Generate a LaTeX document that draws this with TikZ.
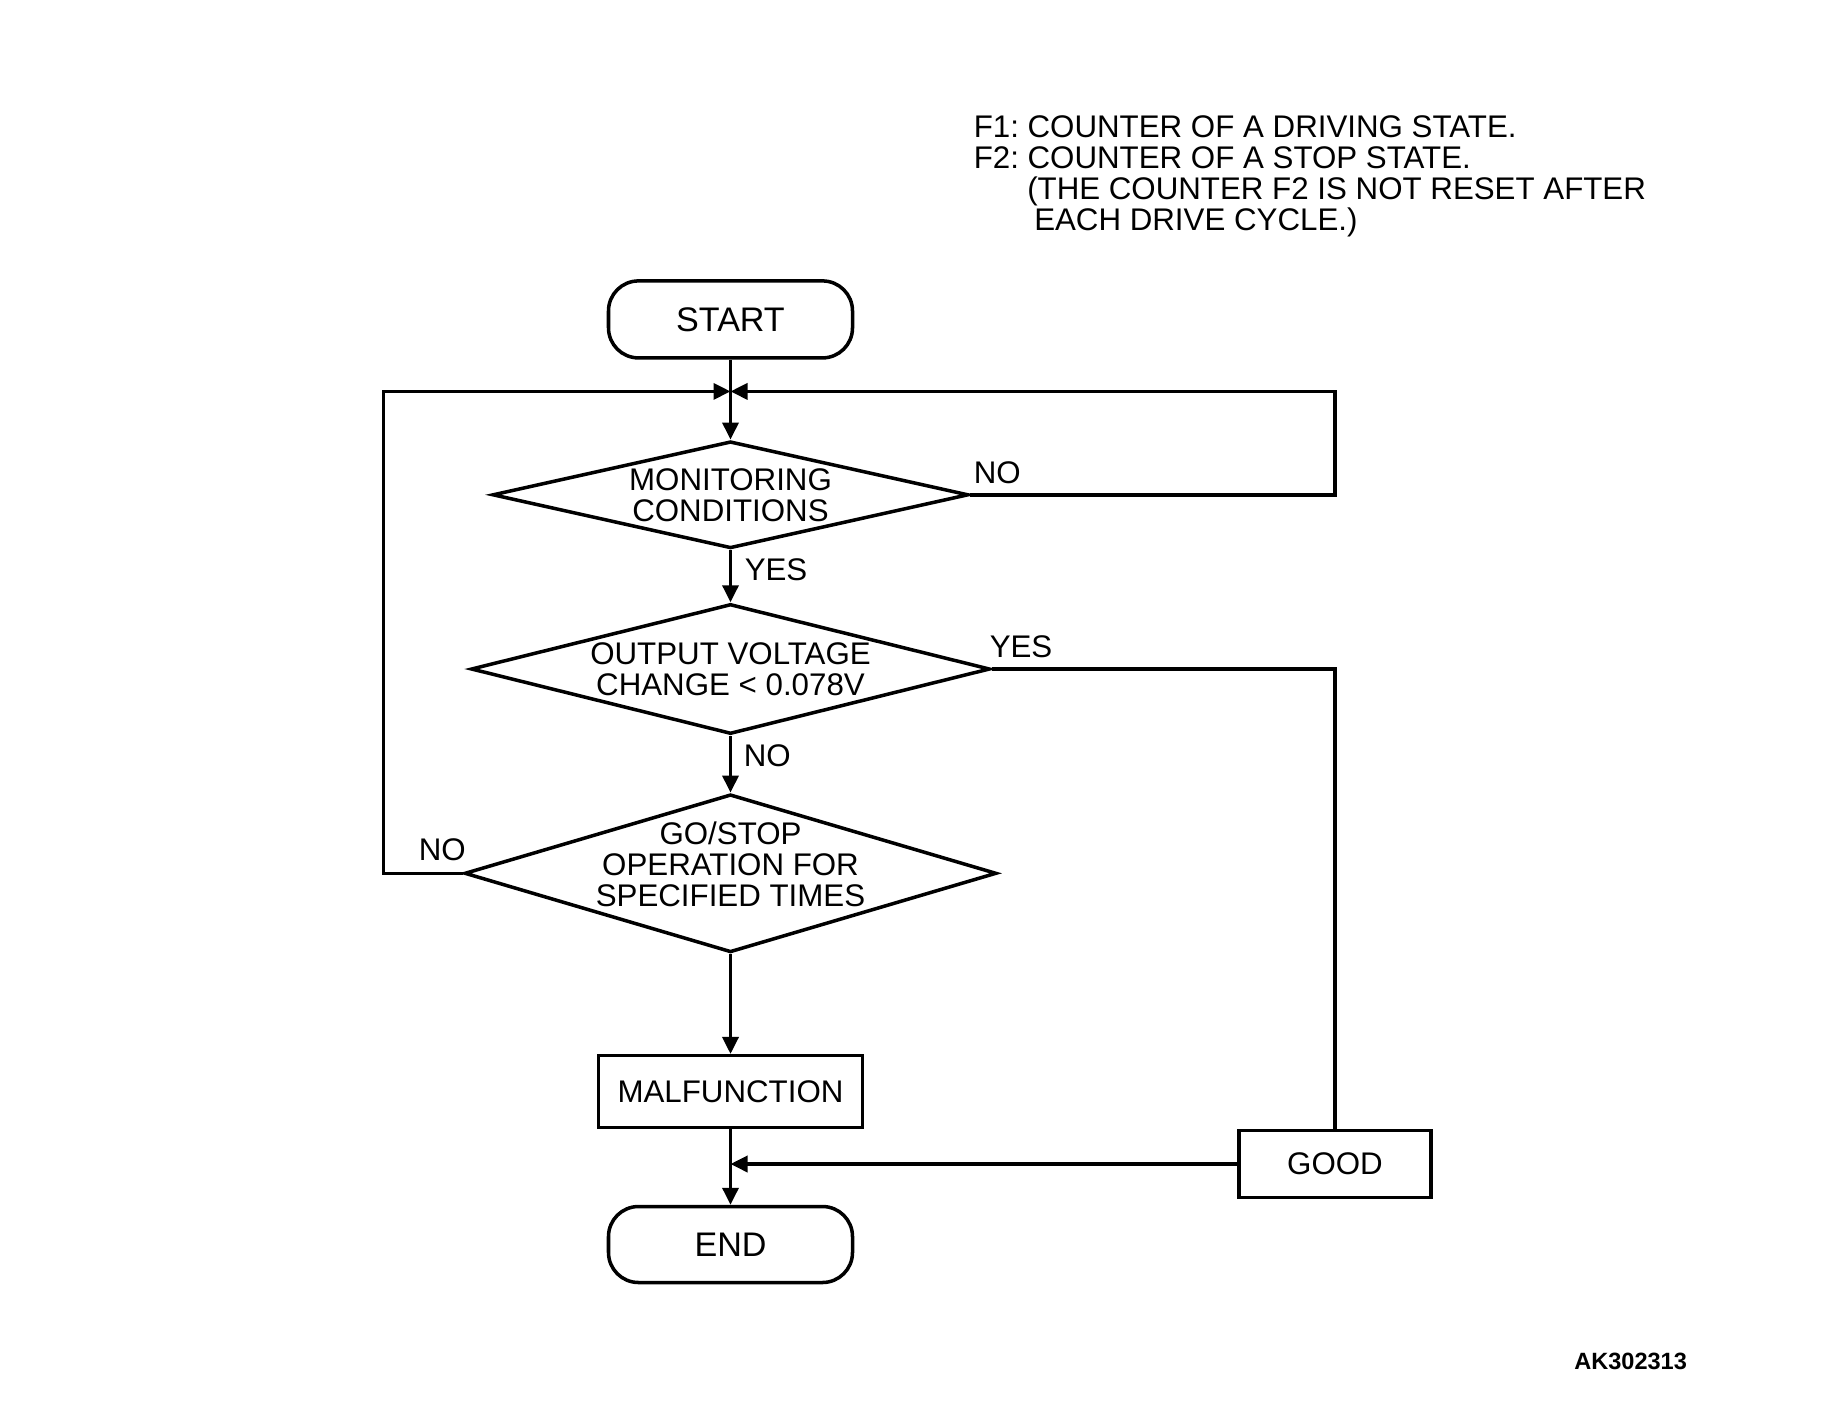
\documentclass[tikz,border=0pt]{standalone}
\usepackage{fontspec}
\setmainfont{Liberation Sans}
\frenchspacing
\usetikzlibrary{shapes.geometric, arrows.meta}

\begin{document}
\begin{tikzpicture}[
    line width=1pt,
    >={Triangle[length=1.7mm, width=1.6mm]},
    every node/.style={font=\fontsize{8.9}{8.85}\selectfont, inner sep=0pt},
    term/.style={draw, rectangle, rounded corners=0.3cm, minimum width=2.44cm, minimum height=0.77cm,
        font=\fontsize{9.7}{11}\selectfont},
    box/.style={draw, rectangle, minimum height=0.7cm},
    dia/.style={draw, diamond}
]
    \useasboundingbox (0,0) rectangle (18.21,-14.08);

    % Note
    \node[anchor=north west, align=left] (note) at (9.72,-1.14)
        {F1: COUNTER OF A DRIVING STATE.\\
         F2: COUNTER OF A STOP STATE.\\
         \hspace*{0.535cm}(THE COUNTER F2 IS NOT RESET AFTER\\
         \hspace*{0.605cm}EACH DRIVE CYCLE.)};

    % Terminals and boxes
    \node[term] (start) at (7.305,-3.194) {START};
    \coordinate (join) at (7.305,-3.914);
    \coordinate (lcorner) at (3.833,-3.914);
    \node[box, minimum width=2.64cm, minimum height=0.72cm] (malf) at (7.305,-10.917) {MALFUNCTION};
    \node[box, minimum width=1.92cm, minimum height=0.67cm] (good) at (13.35,-11.64) {GOOD};
    \node[term, minimum height=0.76cm] (fin) at (7.305,-12.445) {END};

    % Decisions
    \node[dia, minimum width=4.76cm, minimum height=1.07cm] (d1) at (7.305,-4.948) {};
    \node[align=center] (d1t) at (7.305,-4.953) {MONITORING\\CONDITIONS};
    \node[dia, minimum width=5.19cm, minimum height=1.30cm] (d2) at (7.305,-6.69) {};
    \node[align=center] (d2t) at (7.305,-6.695) {OUTPUT VOLTAGE\\CHANGE < 0.078V};
    \node[dia, minimum width=5.32cm, minimum height=1.58cm] (d3) at (7.305,-8.733) {};
    \node[align=center] (d3t) at (7.305,-8.64) {GO/STOP\\OPERATION FOR\\SPECIFIED TIMES};

    % Connectors
    \draw[->] (start) -- (d1);
    \draw[->] (d1) -- (d2);
    \draw[->] (d2) -- (d3);
    \draw[->] (d3) -- (malf);
    \draw[->] (malf) -- (fin);
    \draw[->] (d1.east) -| (good.north |- join) -- (join);
    \draw[->] (d3.west) -| (lcorner) -- (join);
    \draw (d2.east) -| (good.north);
    \draw[->] (good.west) -- (good.west -| fin.north);

    % Branch labels
    \node[anchor=west] (no1) at (9.72,-4.727) {NO};
    \node[anchor=west] (yes1) at (7.43,-5.70) {YES};
    \node[anchor=west] (yes2) at (9.88,-6.47) {YES};
    \node[anchor=west] (no2) at (7.42,-7.56) {NO};
    \node[anchor=west] (no3) at (4.17,-8.50) {NO};

    \node[anchor=east, font=\bfseries\fontsize{6.7}{8}\selectfont] (figid) at (16.887,-13.61) {AK302313};
\end{tikzpicture}
\end{document}
